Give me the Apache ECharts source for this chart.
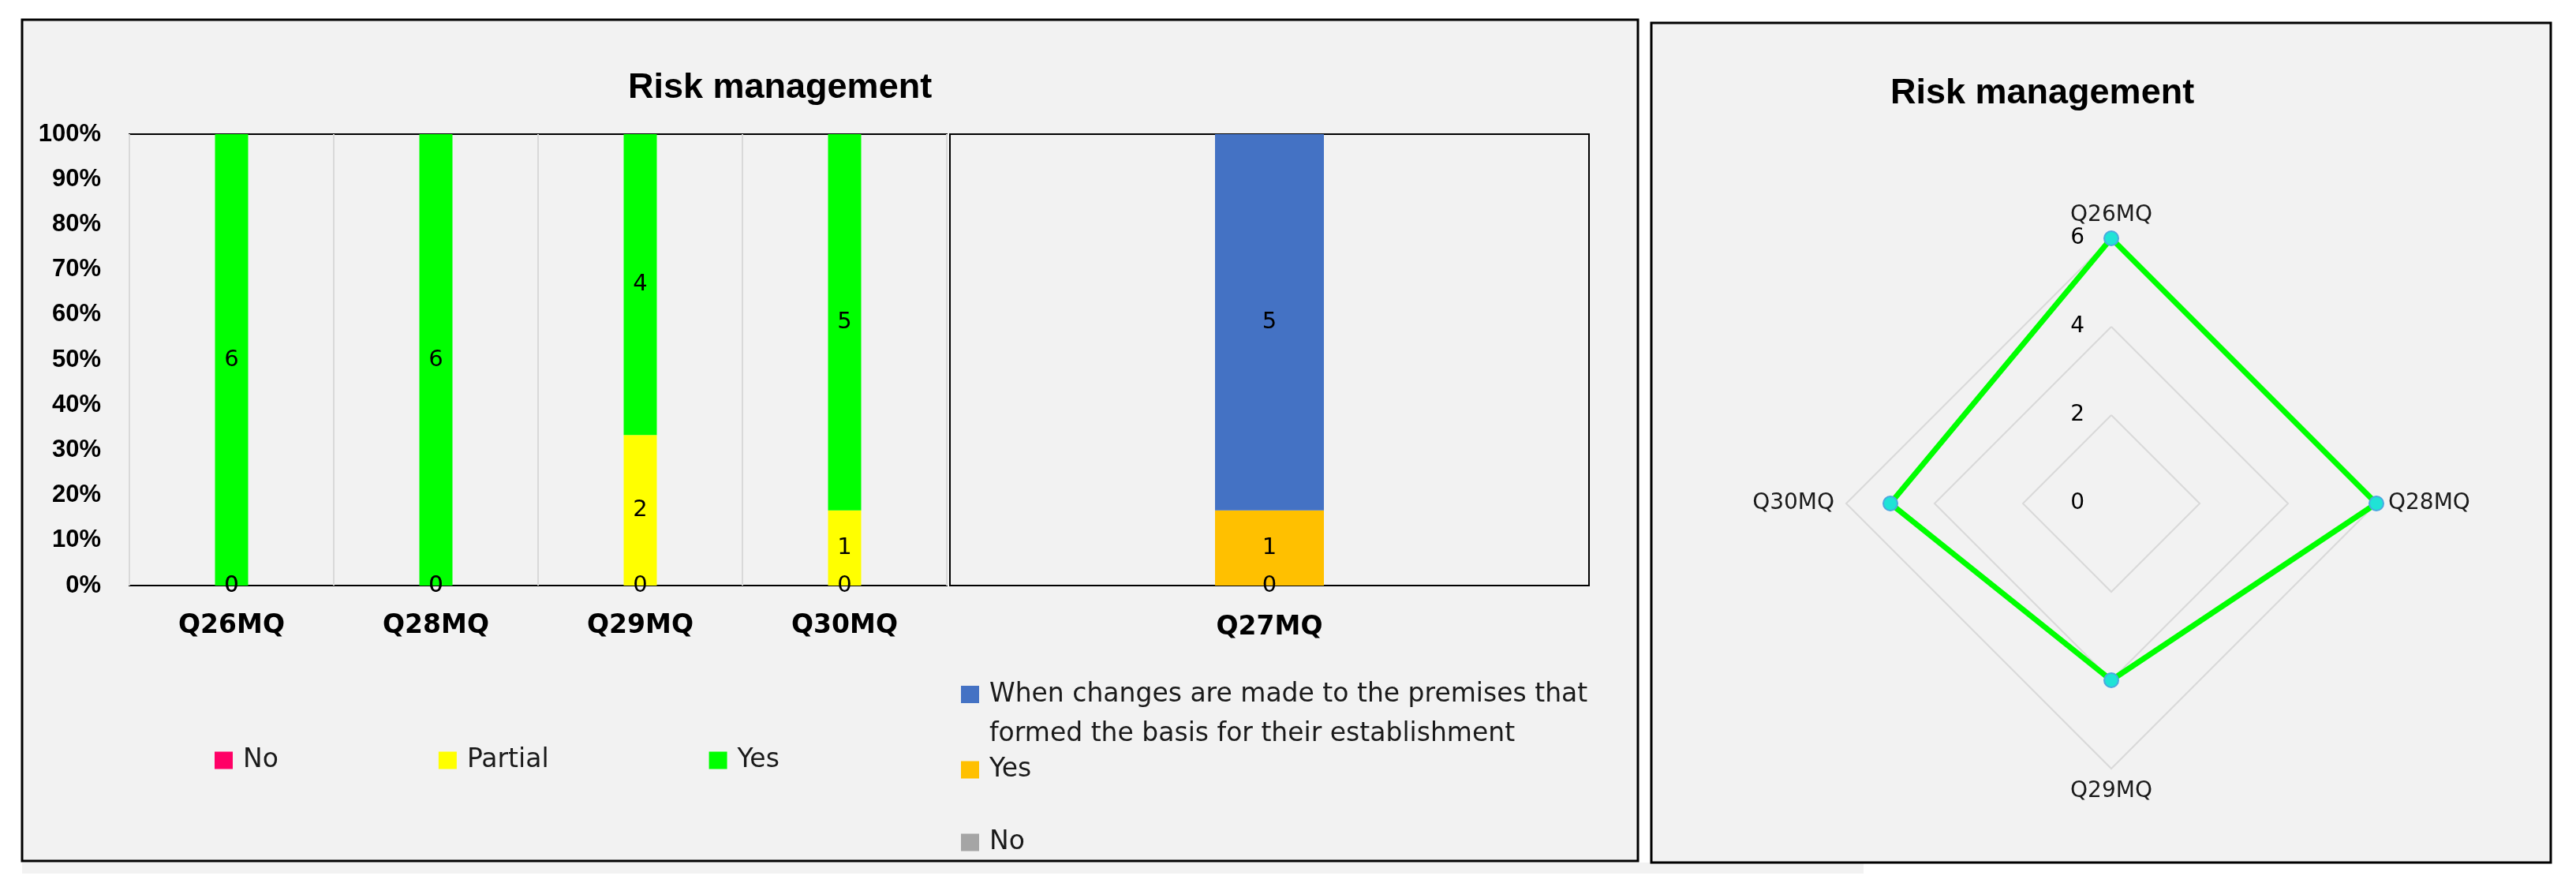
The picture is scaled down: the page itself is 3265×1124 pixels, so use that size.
<!DOCTYPE html>
<html>
<head>
<meta charset="utf-8">
<title>Risk management</title>
<script src="https://cdn.jsdelivr.net/npm/echarts@6/dist/echarts.min.js"></script>
<style>
  html, body { margin: 0; padding: 0; background: #fff; }
  #chart { width: 3265px; height: 1124px; }
</style>
</head>
<body>
<div id="chart"></div>
<script>
// stacked 100% columns, first block
const categoriesA = ["Q26MQ", "Q28MQ", "Q29MQ", "Q30MQ"];
const noA = [0, 0, 0, 0];
const partialA = [0, 0, 2, 1];
const yesA = [6, 6, 4, 5];

// stacked 100% column, second block
const categoriesB = ["Q27MQ"];
const noB = [0];
const yesB = [1];
const whenB = [5];

// radar, clockwise from the top
const radarAxes = ["Q26MQ", "Q28MQ", "Q29MQ", "Q30MQ"];
const radarValues = [6, 6, 4, 5];
const radarMax = 6;

// leading blank line keeps the key square level with the first text line
const legendText = {
  "B When": " \nWhen changes are made to the premises that\nformed the basis for their establishment",
  "B Yes": "Yes",
  "B No": "No",
};

const FONT = "DejaVu Sans";
const TXT = "#1a1a1a";

// counts -> share of column (in %)
function toPercent(list) {
  const totals = list[0].map((_, i) => list.reduce((s, arr) => s + arr[i], 0));
  return list.map((arr) => arr.map((v, i) => (totals[i] ? (v / totals[i]) * 100 : 0)));
}

function barSeries(name, counts, pct, color, axis, width) {
  return {
    name: name,
    type: "bar",
    stack: "s" + axis,
    xAxisIndex: axis,
    yAxisIndex: axis,
    barWidth: width,
    data: pct,
    itemStyle: { color: color },
    label: {
      show: true,
      position: "inside",
      color: "#000",
      fontFamily: FONT,
      fontSize: 29,
      formatter: (p) => String(counts[p.dataIndex]),
    },
  };
}

const pA = toPercent([noA, partialA, yesA]);
const pB = toPercent([noB, yesB, whenB]);

// echarts radar goes counter-clockwise, so flip the order after the first axis
const order = [0, 3, 2, 1];

let chart = echarts.init(document.getElementById("chart"));

let option = {
  animation: false,
  graphic: [
    {
      type: "rect",
      z: -10,
      shape: { x: 28, y: 1093, width: 2334, height: 14 },
      style: { fill: "#f2f2f2" },
    },
    {
      type: "rect",
      z: -10,
      shape: { x: 28, y: 25, width: 2048, height: 1066 },
      style: { fill: "#f2f2f2", stroke: "#000", lineWidth: 3 },
    },
    {
      type: "rect",
      z: -10,
      shape: { x: 2093, y: 29, width: 1140, height: 1064 },
      style: { fill: "#f2f2f2", stroke: "#000", lineWidth: 3 },
    },
  ],
  title: [
    {
      text: "Risk management",
      left: 796,
      top: 89,
      padding: 0,
      textStyle: { fontFamily: "Liberation Sans", fontWeight: "bold", fontSize: 45, color: "#000" },
    },
    {
      text: "Risk management",
      left: 2396,
      top: 96,
      padding: 0,
      textStyle: { fontFamily: "Liberation Sans", fontWeight: "bold", fontSize: 45, color: "#000" },
    },
  ],
  legend: [
    {
      data: ["No", "Partial", "Yes"],
      left: 272,
      top: 947,
      padding: 0,
      icon: "rect",
      itemWidth: 23,
      itemHeight: 22,
      itemGap: 203,
      selectedMode: false,
      textStyle: { fontFamily: FONT, fontSize: 33, color: TXT, lineHeight: 22, padding: [0, 0, 0, 8] },
    },
    {
      data: ["B When"],
      left: 1218,
      top: 805,
      padding: 0,
      icon: "rect",
      itemWidth: 23,
      itemHeight: 22,
      selectedMode: false,
      formatter: (n) => legendText[n],
      textStyle: { fontFamily: FONT, fontSize: 33, color: TXT, lineHeight: 50, padding: [0, 0, 0, 8] },
    },
    {
      data: ["B Yes"],
      left: 1218,
      top: 959,
      padding: 0,
      icon: "rect",
      itemWidth: 23,
      itemHeight: 22,
      selectedMode: false,
      formatter: (n) => legendText[n],
      textStyle: { fontFamily: FONT, fontSize: 33, color: TXT, lineHeight: 22, padding: [0, 0, 0, 8] },
    },
    {
      data: ["B No"],
      left: 1218,
      top: 1051,
      padding: 0,
      icon: "rect",
      itemWidth: 23,
      itemHeight: 22,
      selectedMode: false,
      formatter: (n) => legendText[n],
      textStyle: { fontFamily: FONT, fontSize: 33, color: TXT, lineHeight: 22, padding: [0, 0, 0, 8] },
    },
  ],
  grid: [
    { left: 164, top: 170, width: 1036, height: 572, show: true, borderColor: "#000", borderWidth: 2, backgroundColor: "transparent" },
    { left: 1204, top: 170, width: 810, height: 572, show: true, borderColor: "#000", borderWidth: 2, backgroundColor: "transparent" },
  ],
  xAxis: [
    {
      type: "category",
      gridIndex: 0,
      data: categoriesA,
      axisLine: { show: false },
      axisTick: { show: false },
      splitLine: { show: true, lineStyle: { color: "#d9d9d9", width: 2 } },
      axisLabel: { fontFamily: FONT, fontWeight: "bold", fontSize: 33, color: "#000", margin: 35 },
    },
    {
      type: "category",
      gridIndex: 1,
      data: categoriesB,
      axisLine: { show: false },
      axisTick: { show: false },
      splitLine: { show: false },
      axisLabel: { fontFamily: FONT, fontWeight: "bold", fontSize: 33, color: "#000", margin: 37 },
    },
  ],
  yAxis: [
    {
      type: "value",
      gridIndex: 0,
      min: 0,
      max: 100,
      interval: 10,
      axisLine: { show: false },
      axisTick: { show: false },
      splitLine: { show: false },
      axisLabel: {
        formatter: "{value}%",
        fontFamily: "Liberation Sans",
        fontWeight: "bold",
        fontSize: 31,
        color: "#000",
        margin: 36,
      },
    },
    { type: "value", gridIndex: 1, min: 0, max: 100, show: false },
  ],
  radar: {
    center: [2676, 638],
    radius: 336,
    startAngle: 90,
    shape: "polygon",
    splitNumber: 3,
    nameGap: 15,
    axisName: { fontFamily: FONT, fontSize: 28, color: TXT },
    splitLine: { lineStyle: { color: "#d9d9d9", width: 2 } },
    splitArea: { show: false },
    axisLine: { show: false },
    axisTick: { show: false },
    axisLabel: { show: false },
    indicator: order.map((k, i) => {
      const ind = { name: radarAxes[k], min: 0, max: radarMax };
      if (i === 0) {
        ind.axisLabel = { show: true, margin: 34, fontFamily: FONT, fontSize: 28, color: "#000" };
      }
      return ind;
    }),
  },
  series: [
    barSeries("No", noA, pA[0], "#ff0066", 0, 42),
    barSeries("Partial", partialA, pA[1], "#ffff00", 0, 42),
    barSeries("Yes", yesA, pA[2], "#00ff00", 0, 42),
    barSeries("B No", noB, pB[0], "#a5a5a5", 1, 138),
    barSeries("B Yes", yesB, pB[1], "#ffc000", 1, 138),
    barSeries("B When", whenB, pB[2], "#4472c4", 1, 138),
    {
      type: "radar",
      symbol: "circle",
      symbolSize: 18,
      lineStyle: { color: "#00ff00", width: 7 },
      itemStyle: { color: "#1fe3d6", borderColor: "#4aa8e0", borderWidth: 2 },
      data: [{ value: order.map((k) => radarValues[k]), name: "Yes" }],
    },
  ],
};

chart.setOption(option);
</script>
</body>
</html>
